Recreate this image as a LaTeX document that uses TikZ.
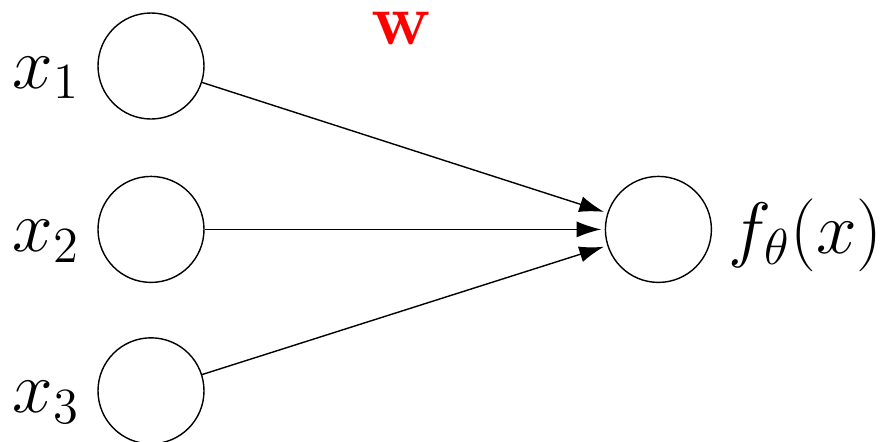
\documentclass[tikz,border=0pt]{standalone}
\usepackage{amsmath}
\usepackage{tikz}
\usetikzlibrary{arrows.meta, positioning}

\begin{document}
\begin{tikzpicture}[
      unit/.style={draw, circle, minimum size=1.06cm, inner sep=0pt},
      lbl/.style={font=\huge, inner sep=0pt},
      arr/.style={-{Latex[length=7pt, width=4.6pt]}, shorten >=1pt}
    ]
    \useasboundingbox (0,0) rectangle (8.81,4.41);
    \node[unit] (x1) at (1.51,3.75) {};
    \node[unit, below=0.56cm of x1] (x2) {};
    \node[unit, below=0.54cm of x2] (x3) {};
    \node[unit, right=4.0cm of x2] (out) {};

    \node[lbl, anchor=base east] (l1) at ([xshift=-0.17cm, yshift=-0.22cm]x1.west) {$x_1$};
    \node[lbl, anchor=base east] (l2) at ([xshift=-0.17cm, yshift=-0.22cm]x2.west) {$x_2$};
    \node[lbl, anchor=base east] (l3) at ([xshift=-0.17cm, yshift=-0.22cm]x3.west) {$x_3$};
    \node[lbl, anchor=base west] (lo) at ([xshift=0.16cm, yshift=-0.24cm]out.east) {$f_\theta(x)$};
    \node[lbl, anchor=base, text=red] (w) at (4.02,3.97) {$\mathbf{w}$};

    \draw[arr] (x1) -- (out);
    \draw[arr] (x2) -- (out);
    \draw[arr] (x3) -- (out);
  \end{tikzpicture}
\end{document}
